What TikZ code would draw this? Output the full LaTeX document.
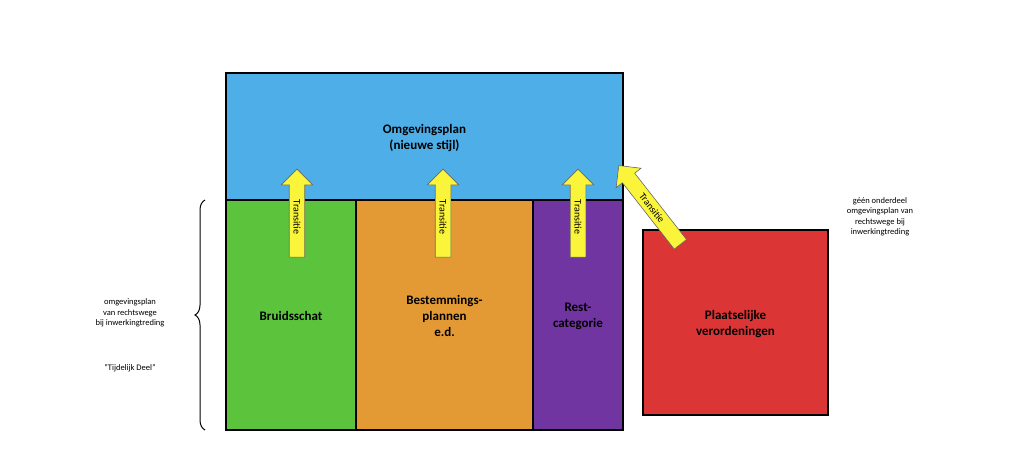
\documentclass[tikz,border=0pt]{standalone}
\usepackage{fontspec}
\setmainfont{Carlito}
\usetikzlibrary{shapes.arrows,decorations.pathreplacing}
\definecolor{cblue}{HTML}{4DAEE8}
\definecolor{cgreen}{HTML}{5BC43C}
\definecolor{corange}{HTML}{E39A35}
\definecolor{cpurple}{HTML}{7035A0}
\definecolor{cred}{HTML}{DB3535}
\definecolor{cyel}{HTML}{FAF53A}
\begin{document}
\begin{tikzpicture}[x=1pt,y=-1pt,
 box/.style={draw=black,line width=1.5pt},
 lab/.style={font=\bfseries\fontsize{13}{16}\selectfont,align=center},
 small/.style={font=\fontsize{8.5}{10.5}\selectfont,align=center},
 tr/.style={single arrow,draw=black!60,fill=cyel,line width=0.6pt,font=\fontsize{10}{11}\selectfont,
   minimum height=88,single arrow head extend=8pt,inner xsep=1pt,inner ysep=4pt,shape border rotate=180}]
\useasboundingbox (0,0) rectangle (1024,463);
\fill[white] (0,0) rectangle (1024,463);
\path[box,fill=cblue] (226,73) rectangle node[lab,yshift=-2]{Omgevingsplan\\(nieuwe stijl)} (623,200);
\path[box,fill=cgreen] (226,200) rectangle node[lab,yshift=-1](g){Bruidsschat} (356,430);
\path[box,fill=corange] (356,200) rectangle node[lab,yshift=-1](o){Bestemmings-\\plannen\\e.d.} (533,430);
\path[box,fill=cpurple] (533,200) rectangle node[lab,yshift=-1](p){Rest-\\categorie} (623,430);
\path[box,fill=cred] (643,230) rectangle node[lab,yshift=-2](r){Plaatselijke\\verordeningen} (828,415);
\node[tr,rotate=-90] (a1) at (297,217) {Transitie};
\node[tr,rotate=-90] (a2) at (443,217) {Transitie};
\node[tr,rotate=-90] (a3) at (578,217) {Transitie};
\node[tr,rotate=-52,minimum height=100] (a4) at (652,208) {Transitie};
\draw[decorate,decoration={brace,amplitude=10pt},line width=1pt] (205,430) -- (205,200);
\node[small] (lt) at (130,313) {omgevingsplan\\van rechtswege\\bij inwerkingtreding};
\node[small] (lq) at (130,368) {"Tijdelijk Deel"};
\node[small] (rt) at (880,217) {géén onderdeel\\omgevingsplan van\\rechtswege bij\\inwerkingtreding};
\end{tikzpicture}
\end{document}
